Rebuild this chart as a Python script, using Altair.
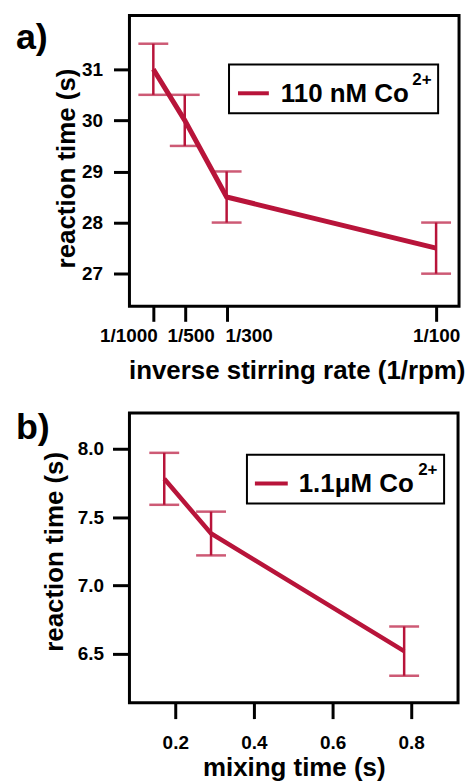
import altair as alt
import pandas as pd

# ---------------- data ----------------
# panel a
inv_rate = [1 / 1000, 1 / 500, 1 / 300, 1 / 100]
inv_rate_labels = ["1/1000", "1/500", "1/300", "1/100"]
react_a = [31.0, 30.0, 28.5, 27.5]
err_a = [0.5, 0.5, 0.5, 0.5]
yticks_a = [27, 28, 29, 30, 31]
legend_a = "110 nM Co"

# panel b
mix_time = [0.172, 0.291, 0.782]
react_b = [7.78, 7.38, 6.52]
err_b = [0.19, 0.16, 0.18]
xticks_b = [0.2, 0.4, 0.6, 0.8]
yticks_b = [6.5, 7.0, 7.5, 8.0]
legend_b = "1.1\u03bcM Co"
legend_sup = "2+"
panel_labels = ["a)", "b)"]

# ---------------- style ----------------
RED = "#b8143a"
FONT = "Liberation Sans"
label_shift_a = [-25, 6, 22, 0]


def make_df(x, y, e):
    return pd.DataFrame({"x": x, "y": y,
                         "lo": [a - b for a, b in zip(y, e)],
                         "hi": [a + b for a, b in zip(y, e)]})


def axis_common(**kw):
    base = dict(grid=False, domain=False, tickColor="black", tickWidth=3,
                labelFont=FONT, labelFontSize=19, labelFontWeight="bold",
                labelColor="black", titleFont=FONT, titleFontSize=26,
                titleFontWeight="bold", titleColor="black", labelOverlap=False,
                titleBaseline="alphabetic", titleAlign="center")
    base.update(kw)
    return alt.Axis(**base)


def expr_chain(values, outs, default):
    mids = [(values[i] + values[i + 1]) / 2 for i in range(len(values) - 1)]
    s = default
    for m, o in reversed(list(zip(mids, outs[:-1]))):
        s = f"datum.value < {m} ? {o} : ({s})"
    return s


def panel(df, xscale, yscale, xaxis, yaxis, leg, lab, w, h, lw):
    X = lambda f: alt.X(f, type="quantitative", scale=xscale, axis=xaxis)
    Y = lambda f: alt.Y(f, type="quantitative", scale=yscale, axis=yaxis)
    base = alt.Chart(df)
    line = base.mark_line(color=RED, strokeWidth=lw, strokeJoin="miter").encode(x=X("x"), y=Y("y"))
    bars = base.mark_rule(color=RED, strokeWidth=2.5).encode(x=X("x"), y=Y("lo"), y2="hi")
    cap_lo = base.mark_tick(color=RED, orient="horizontal", size=30, thickness=2.5).encode(x=X("x"), y=Y("lo"))
    cap_hi = base.mark_tick(color=RED, orient="horizontal", size=30, thickness=2.5).encode(x=X("x"), y=Y("hi"))

    ldf = pd.DataFrame({"label": [leg["text"]], "sup": [legend_sup], "panel": [lab["text"]]})
    lb = alt.Chart(ldf)
    box = lb.mark_rect(fill="white", stroke="black", strokeWidth=2).encode(
        x=alt.value(leg["box"][0]), x2=alt.value(leg["box"][1]),
        y=alt.value(leg["box"][2]), y2=alt.value(leg["box"][3]))
    sw = lb.mark_rule(color=RED, strokeWidth=4).encode(
        x=alt.value(leg["line"][0]), x2=alt.value(leg["line"][1]), y=alt.value(leg["line"][2]))
    txt = lb.mark_text(font=FONT, fontSize=26, fontWeight="bold", align="left",
                       baseline="alphabetic", color="black").encode(
        x=alt.value(leg["txt"][0]), y=alt.value(leg["txt"][1]), text="label:N")
    sup = lb.mark_text(font=FONT, fontSize=17, fontWeight="bold", align="left",
                       baseline="alphabetic", color="black").encode(
        x=alt.value(leg["sup"][0]), y=alt.value(leg["sup"][1]), text="sup:N")
    pl = lb.mark_text(font=FONT, fontSize=36, fontWeight="bold", align="left",
                      baseline="alphabetic", color="black").encode(
        x=alt.value(lab["pos"][0]), y=alt.value(lab["pos"][1]), text="panel:N")
    return alt.layer(line, bars, cap_lo, cap_hi, box, sw, txt, sup, pl).properties(width=w, height=h)


# ---------------- panel a ----------------
df_a = make_df(inv_rate, react_a, err_a)
xaxis_a = axis_common(
    values=inv_rate, title="inverse stirring rate (1/rpm)",
    labelExpr=expr_chain(inv_rate, [f"'{t}'" for t in inv_rate_labels], f"'{inv_rate_labels[-1]}'"),
    labelOffset=alt.ExprRef(expr=expr_chain(inv_rate, [str(v) for v in label_shift_a], str(label_shift_a[-1]))),
    tickSize=15, labelPadding=20, labelBaseline="alphabetic", titleX=168, titleY=72)
yaxis_a = axis_common(values=yticks_a, title="reaction time (s)", tickSize=16, labelPadding=11,
                      titleAngle=270, titleX=-55, titleY=153)
chart_a = panel(df_a,
                alt.Scale(domain=[0.00024, 0.01073], nice=False, zero=False),
                alt.Scale(domain=[26.36, 32.05], nice=False, zero=False),
                xaxis_a, yaxis_a,
                {"text": legend_a, "box": [100, 310, 49, 98], "line": [109, 140, 78],
                 "txt": [152, 87], "sup": [284, 70]},
                {"text": panel_labels[0], "pos": [-114, 34]}, 331, 292, 5)

# ---------------- panel b ----------------
df_b = make_df(mix_time, react_b, err_b)
xaxis_b = axis_common(values=xticks_b, format=".1f", title="mixing time (s)",
                      tickSize=16, labelPadding=30, labelBaseline="alphabetic",
                      titleX=165, titleY=73)
yaxis_b = axis_common(values=yticks_b, format=".1f", title="reaction time (s)",
                      tickSize=17, labelPadding=9, titleAngle=270, titleX=-67, titleY=139)
chart_b = panel(df_b,
                alt.Scale(domain=[0.0835, 0.919], nice=False, zero=False),
                alt.Scale(domain=[6.143, 8.262], nice=False, zero=False),
                xaxis_b, yaxis_b,
                {"text": legend_b, "box": [118, 316, 42, 91], "line": [126, 159, 71],
                 "txt": [170, 79], "sup": [290, 62]},
                {"text": panel_labels[1], "pos": [-114, 26]}, 330, 291, 4.5)

chart = alt.vconcat(chart_a, chart_b, spacing=23).properties(
    padding={"left": 14, "top": 12, "right": 0, "bottom": 0}
).configure_view(stroke="black", strokeWidth=3)

chart.save("out.html", embed_options={"renderer": "svg", "actions": False})
